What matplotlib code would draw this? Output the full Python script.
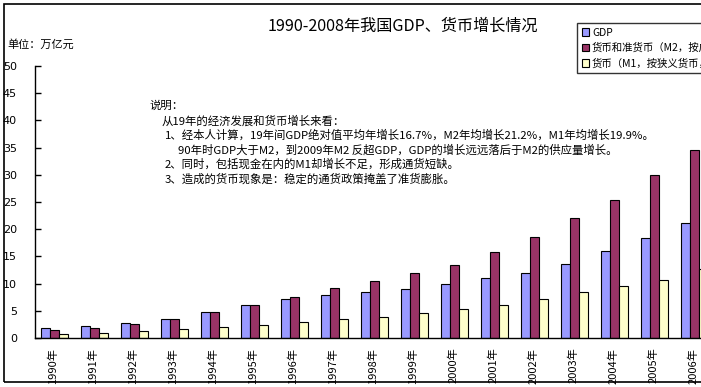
import matplotlib
matplotlib.use("Agg")
import matplotlib.pyplot as plt
import numpy as np
from matplotlib.patches import Rectangle

plt.rcParams['font.family'] = ['Noto Sans CJK SC', 'DejaVu Sans']

# data (万亿元)
years = ['1990年', '1991年', '1992年', '1993年', '1994年', '1995年', '1996年', '1997年', '1998年',
         '1999年', '2000年', '2001年', '2002年', '2003年', '2004年', '2005年', '2006年']
gdp = [1.9, 2.2, 2.7, 3.5, 4.8, 6.1, 7.1, 7.9, 8.4, 9.0, 9.9, 11.0, 12.0, 13.6, 16.0, 18.3, 21.2]
m2 = [1.5, 1.9, 2.5, 3.5, 4.7, 6.1, 7.6, 9.1, 10.4, 12.0, 13.5, 15.8, 18.5, 22.1, 25.3, 29.9, 34.6]
m1 = [0.7, 0.9, 1.2, 1.6, 2.0, 2.4, 2.9, 3.5, 3.9, 4.6, 5.3, 6.0, 7.1, 8.4, 9.6, 10.7, 12.6]
series_names = ['GDP', '货币和准货币（M2，按广义货币，亿元）', '货币（M1，按狭义货币，亿元）']
colors = ['#9999FF', '#993366', '#FFFFCC']
yticks = [0, 5, 10, 15, 20, 25, 30, 35, 40, 45, 50]

W, H = 701, 387
fig = plt.figure(figsize=(W / 100, H / 100), dpi=100)

# outer frame (right side runs off the picture, as in the original screenshot)
fig.patches.append(Rectangle((4 / W, 1 - 382 / H), 2.0, (382 - 4) / H,
                             transform=fig.transFigure, fill=False, edgecolor='black', lw=1.2))

ax = fig.add_axes([35 / W, 1 - 338 / H, 1 - 35 / W, (338 - 66) / H])
x = np.arange(len(years))
bw = 0.225
for k, (vals, c, name) in enumerate(zip([gdp, m2, m1], colors, series_names)):
    ax.bar(x + (k - 1) * bw + 0.04, vals, bw, color=c, edgecolor='black', linewidth=0.8, label=name)

ax.set_xlim(-0.45, -0.45 + (W - 35) / 40)
ax.set_ylim(0, 50)
ax.set_yticks(yticks)
ax.set_yticklabels([str(v) for v in yticks], fontsize=8, family='DejaVu Sans')
ax.tick_params(axis='y', direction='in', length=4, width=1, pad=13)
ax.set_xticks(x)
ax.set_xticklabels(years, rotation=90, fontsize=8)
ax.tick_params(axis='x', length=0, pad=7)
for s in ['top', 'right']:
    ax.spines[s].set_visible(False)
for s in ['left', 'bottom']:
    ax.spines[s].set_linewidth(1.0)
ax.set_facecolor('none')

# title and unit
fig.text(403 / W, 1 - 26 / H, '1990-2008年我国GDP、货币增长情况', ha='center', va='center', fontsize=11.6)
fig.text(7 / W, 1 - 44 / H, '单位：万亿元', ha='left', va='center', fontsize=8)

# legend
leg = fig.legend(loc='upper left', bbox_to_anchor=(577 / W, 1 - 23 / H), fontsize=7.5,
                 frameon=True, fancybox=False, borderpad=0.45, handlelength=0.7, handleheight=0.7,
                 handletextpad=0.3, labelspacing=0.5, borderaxespad=0)
leg.get_frame().set_edgecolor('black')
leg.get_frame().set_linewidth(1.0)

# notes
notes = [
    (150, 106, '说明：'),
    (162, 121, '从19年的经济发展和货币增长来看：'),
    (165, 135, '1、经本人计算，19年间GDP绝对值平均年增长16.7%，M2年均增长21.2%，M1年均增长19.9%。'),
    (178, 150, '90年时GDP大于M2，到2009年M2 反超GDP，GDP的增长远远落后于M2的供应量增长。'),
    (165, 164, '2、同时，包括现金在内的M1却增长不足，形成通货短缺。'),
    (165, 179, '3、造成的货币现象是：稳定的通货政策掩盖了准货膨胀。'),
]
for nx, ny, t in notes:
    fig.text(nx / W, 1 - ny / H, t, ha='left', va='center', fontsize=8.2)

fig.savefig('out.png', dpi=100)
